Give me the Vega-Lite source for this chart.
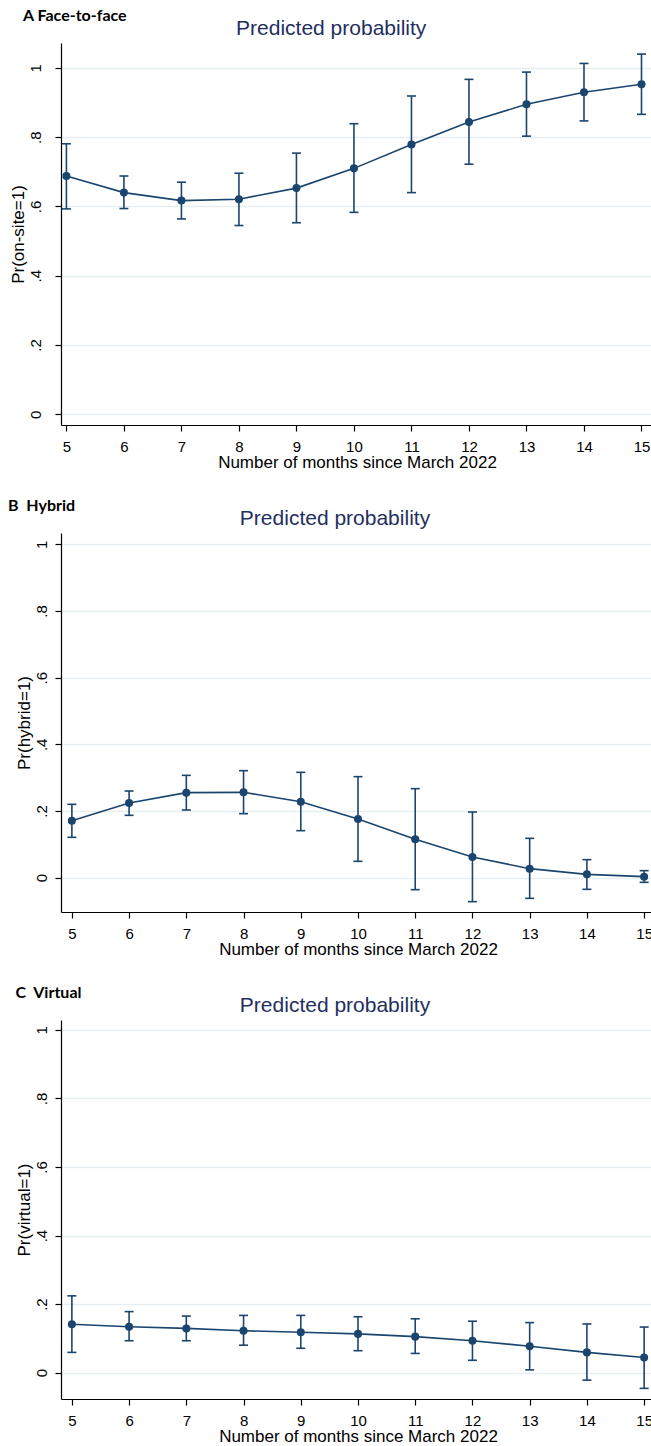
{
  "$schema": "https://vega.github.io/schema/vega-lite/v6.json",
  "background": "white",
  "padding": {"left": 8, "top": 8, "right": 0, "bottom": 0},
  "spacing": 27,
  "datasets": {
    "a": [
      {"month": 5, "p": 0.688, "lo": 0.593, "hi": 0.781},
      {"month": 6, "p": 0.640, "lo": 0.594, "hi": 0.688},
      {"month": 7, "p": 0.617, "lo": 0.564, "hi": 0.670},
      {"month": 8, "p": 0.621, "lo": 0.545, "hi": 0.696},
      {"month": 9, "p": 0.653, "lo": 0.553, "hi": 0.754},
      {"month": 10, "p": 0.710, "lo": 0.583, "hi": 0.839},
      {"month": 11, "p": 0.779, "lo": 0.640, "hi": 0.919},
      {"month": 12, "p": 0.844, "lo": 0.722, "hi": 0.967},
      {"month": 13, "p": 0.895, "lo": 0.803, "hi": 0.988},
      {"month": 14, "p": 0.930, "lo": 0.847, "hi": 1.013},
      {"month": 15, "p": 0.953, "lo": 0.866, "hi": 1.040}
    ],
    "b": [
      {"month": 5, "p": 0.171, "lo": 0.121, "hi": 0.220},
      {"month": 6, "p": 0.224, "lo": 0.187, "hi": 0.260},
      {"month": 7, "p": 0.255, "lo": 0.203, "hi": 0.307},
      {"month": 8, "p": 0.256, "lo": 0.192, "hi": 0.321},
      {"month": 9, "p": 0.228, "lo": 0.141, "hi": 0.316},
      {"month": 10, "p": 0.176, "lo": 0.049, "hi": 0.303},
      {"month": 11, "p": 0.115, "lo": -0.036, "hi": 0.267},
      {"month": 12, "p": 0.062, "lo": -0.072, "hi": 0.197},
      {"month": 13, "p": 0.027, "lo": -0.062, "hi": 0.118},
      {"month": 14, "p": 0.010, "lo": -0.035, "hi": 0.054},
      {"month": 15, "p": 0.003, "lo": -0.014, "hi": 0.021}
    ],
    "c": [
      {"month": 5, "p": 0.141, "lo": 0.059, "hi": 0.224},
      {"month": 6, "p": 0.134, "lo": 0.093, "hi": 0.178},
      {"month": 7, "p": 0.129, "lo": 0.093, "hi": 0.165},
      {"month": 8, "p": 0.122, "lo": 0.080, "hi": 0.167},
      {"month": 9, "p": 0.118, "lo": 0.071, "hi": 0.167},
      {"month": 10, "p": 0.113, "lo": 0.064, "hi": 0.163},
      {"month": 11, "p": 0.105, "lo": 0.056, "hi": 0.157},
      {"month": 12, "p": 0.093, "lo": 0.036, "hi": 0.150},
      {"month": 13, "p": 0.077, "lo": 0.008, "hi": 0.146},
      {"month": 14, "p": 0.059, "lo": -0.022, "hi": 0.142},
      {"month": 15, "p": 0.044, "lo": -0.046, "hi": 0.133}
    ]
  },
  "vconcat": [
    {
      "title": {"text": "A Face-to-face", "anchor": "start", "frame": "group", "align": "left", "dx": -38, "font": "Lato", "fontWeight": "bold", "fontSize": 16, "color": "#000000", "offset": -6},
      "vconcat": [
        {
          "width": 592, "height": 382,
          "data": {"name": "a"},
          "title": {"text": "Predicted probability", "anchor": "middle", "frame": "bounds", "font": "Liberation Sans", "fontSize": 21, "fontWeight": "normal", "color": "#1f2f5e", "offset": 4},
          "layer": [
            {"mark": {"type": "rule", "color": "#1a456f", "strokeWidth": 1.6},
             "encoding": {
               "x": {"field": "month", "type": "quantitative", "scale": {"domain": [4.906, 15.2], "nice": false, "zero": false},
                     "axis": {"values": [5, 6, 7, 8, 9, 10, 11, 12, 13, 14, 15], "format": "d", "title": "Number of months since March 2022"}},
               "y": {"field": "lo", "type": "quantitative", "scale": {"domain": [-0.031, 1.072], "nice": false, "zero": false},
                     "axis": {"labelPadding": 11.6, "titlePadding": 1, "values": [0, 0.2, 0.4, 0.6, 0.8, 1], "labelExpr": "datum.value == 0 ? '0' : datum.value == 1 ? '1' : substring(format(datum.value, '.1f'), 1)", "title": "Pr(on-site=1)"}},
               "y2": {"field": "hi"}}},
            {"mark": {"type": "tick", "orient": "horizontal", "size": 9, "thickness": 1.6, "color": "#1a456f", "opacity": 1},
             "encoding": {"x": {"field": "month", "type": "quantitative"}, "y": {"field": "lo", "type": "quantitative", "title": "Pr(on-site=1)"}}},
            {"mark": {"type": "tick", "orient": "horizontal", "size": 9, "thickness": 1.6, "color": "#1a456f", "opacity": 1},
             "encoding": {"x": {"field": "month", "type": "quantitative"}, "y": {"field": "hi", "type": "quantitative", "title": "Pr(on-site=1)"}}},
            {"mark": {"type": "line", "color": "#1a456f", "strokeWidth": 1.6},
             "encoding": {"x": {"field": "month", "type": "quantitative"}, "y": {"field": "p", "type": "quantitative", "title": "Pr(on-site=1)"}}},
            {"mark": {"type": "point", "filled": true, "size": 65, "opacity": 1, "color": "#1a456f"},
             "encoding": {"x": {"field": "month", "type": "quantitative"}, "y": {"field": "p", "type": "quantitative", "title": "Pr(on-site=1)"}}}
          ]
        }
      ]
    },
    {
      "title": {"text": "B\u00a0\u00a0Hybrid", "anchor": "start", "font": "Lato", "fontWeight": "bold", "fontSize": 16, "color": "#000000", "offset": -6, "dx": -7},
      "vconcat": [
        {
          "width": 594, "height": 379,
          "data": {"name": "b"},
          "title": {"text": "Predicted probability", "anchor": "middle", "frame": "bounds", "font": "Liberation Sans", "fontSize": 21, "fontWeight": "normal", "color": "#1f2f5e", "offset": 4},
          "layer": [
            {"mark": {"type": "rule", "color": "#1a456f", "strokeWidth": 1.6},
             "encoding": {
               "x": {"field": "month", "type": "quantitative", "scale": {"domain": [4.81, 15.19], "nice": false, "zero": false},
                     "axis": {"values": [5, 6, 7, 8, 9, 10, 11, 12, 13, 14, 15], "format": "d", "title": "Number of months since March 2022"}},
               "y": {"field": "lo", "type": "quantitative", "scale": {"domain": [-0.103, 1.034], "nice": false, "zero": false},
                     "axis": {"labelPadding": 6, "titlePadding": 1, "values": [0, 0.2, 0.4, 0.6, 0.8, 1], "labelExpr": "datum.value == 0 ? '0' : datum.value == 1 ? '1' : substring(format(datum.value, '.1f'), 1)", "title": "Pr(hybrid=1)"}},
               "y2": {"field": "hi"}}},
            {"mark": {"type": "tick", "orient": "horizontal", "size": 9, "thickness": 1.6, "color": "#1a456f", "opacity": 1},
             "encoding": {"x": {"field": "month", "type": "quantitative"}, "y": {"field": "lo", "type": "quantitative", "title": "Pr(hybrid=1)"}}},
            {"mark": {"type": "tick", "orient": "horizontal", "size": 9, "thickness": 1.6, "color": "#1a456f", "opacity": 1},
             "encoding": {"x": {"field": "month", "type": "quantitative"}, "y": {"field": "hi", "type": "quantitative", "title": "Pr(hybrid=1)"}}},
            {"mark": {"type": "line", "color": "#1a456f", "strokeWidth": 1.6},
             "encoding": {"x": {"field": "month", "type": "quantitative"}, "y": {"field": "p", "type": "quantitative", "title": "Pr(hybrid=1)"}}},
            {"mark": {"type": "point", "filled": true, "size": 65, "opacity": 1, "color": "#1a456f"},
             "encoding": {"x": {"field": "month", "type": "quantitative"}, "y": {"field": "p", "type": "quantitative", "title": "Pr(hybrid=1)"}}}
          ]
        }
      ]
    },
    {
      "title": {"text": "C\u00a0\u00a0Virtual", "anchor": "start", "font": "Lato", "fontWeight": "bold", "fontSize": 16, "color": "#000000", "offset": -6, "dx": 0.5},
      "vconcat": [
        {
          "width": 594, "height": 379,
          "data": {"name": "c"},
          "title": {"text": "Predicted probability", "anchor": "middle", "frame": "bounds", "font": "Liberation Sans", "fontSize": 21, "fontWeight": "normal", "color": "#1f2f5e", "offset": 4},
          "layer": [
            {"mark": {"type": "rule", "color": "#1a456f", "strokeWidth": 1.6},
             "encoding": {
               "x": {"field": "month", "type": "quantitative", "scale": {"domain": [4.81, 15.19], "nice": false, "zero": false},
                     "axis": {"values": [5, 6, 7, 8, 9, 10, 11, 12, 13, 14, 15], "format": "d", "title": "Number of months since March 2022"}},
               "y": {"field": "lo", "type": "quantitative", "scale": {"domain": [-0.077, 1.029], "nice": false, "zero": false},
                     "axis": {"labelPadding": 6, "titlePadding": 1, "values": [0, 0.2, 0.4, 0.6, 0.8, 1], "labelExpr": "datum.value == 0 ? '0' : datum.value == 1 ? '1' : substring(format(datum.value, '.1f'), 1)", "title": "Pr(virtual=1)"}},
               "y2": {"field": "hi"}}},
            {"mark": {"type": "tick", "orient": "horizontal", "size": 9, "thickness": 1.6, "color": "#1a456f", "opacity": 1},
             "encoding": {"x": {"field": "month", "type": "quantitative"}, "y": {"field": "lo", "type": "quantitative", "title": "Pr(virtual=1)"}}},
            {"mark": {"type": "tick", "orient": "horizontal", "size": 9, "thickness": 1.6, "color": "#1a456f", "opacity": 1},
             "encoding": {"x": {"field": "month", "type": "quantitative"}, "y": {"field": "hi", "type": "quantitative", "title": "Pr(virtual=1)"}}},
            {"mark": {"type": "line", "color": "#1a456f", "strokeWidth": 1.6},
             "encoding": {"x": {"field": "month", "type": "quantitative"}, "y": {"field": "p", "type": "quantitative", "title": "Pr(virtual=1)"}}},
            {"mark": {"type": "point", "filled": true, "size": 65, "opacity": 1, "color": "#1a456f"},
             "encoding": {"x": {"field": "month", "type": "quantitative"}, "y": {"field": "p", "type": "quantitative", "title": "Pr(virtual=1)"}}}
          ]
        }
      ]
    }
  ],
  "config": {
    "view": {"stroke": null},
    "font": "Liberation Sans",
    "axis": {
      "domainColor": "#000000", "domainWidth": 1.2,
      "tickColor": "#000000", "tickWidth": 1.2, "tickSize": 6,
      "labelFont": "Liberation Sans", "labelFontSize": 15, "labelColor": "#000000",
      "titleFont": "Liberation Sans", "titleFontSize": 17, "titleFontWeight": "normal", "titleColor": "#000000"
    },
    "axisX": {"grid": false, "labelPadding": 8.5, "titlePadding": 0, "labelFlush": false},
    "axisY": {
      "grid": true, "gridColor": "#e6eef1", "gridWidth": 1.5,
      "labelAngle": 270, "labelAlign": "center", "labelBaseline": "bottom", "labelFlush": false
    }
  }
}
